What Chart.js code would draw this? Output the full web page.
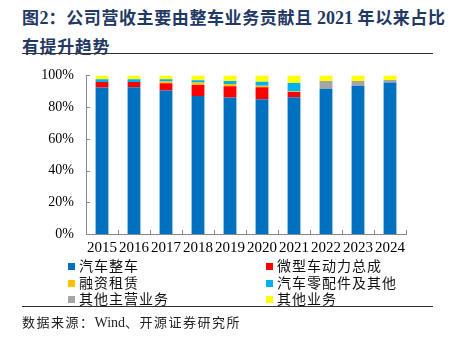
<!DOCTYPE html>
<html lang="zh">
<head>
<meta charset="UTF-8">
<title>整车业务占比</title>
<script src="https://cdn.jsdelivr.net/npm/chart.js@4.4.1/dist/chart.umd.min.js"></script>
<style>
  body { margin: 0; width: 455px; height: 339px; background: #fff; position: relative; overflow: hidden; }
  .title { position: absolute; left: 22px; top: 3px; width: 430px; font-family: "Noto Sans CJK SC", sans-serif;
           font-weight: bold; font-size: 17px; line-height: 27px; color: #1f3864; letter-spacing: 0.6px; }
  .title .num { font-family: "Liberation Serif", serif; font-size: 18px; letter-spacing: 0; }
  .rule { position: absolute; left: 22px; width: 411px; height: 0; border-top: 1.5px solid #333; }
  .wrap { position: absolute; left: 0; top: 55px; width: 455px; height: 215px; }
  .legend { position: absolute; left: 0; top: 257px; width: 455px; font-family: "Noto Sans CJK SC", sans-serif; font-size: 14px; }
  .item { position: absolute; height: 16px; line-height: 16px; letter-spacing: 1px; color: #111; }
  .item i { display: inline-block; width: 7px; height: 7px; margin-right: 4px; vertical-align: 1px; }
  .source { position: absolute; left: 22px; top: 312px; font-family: "Noto Sans CJK SC", sans-serif; font-size: 13px; color: #222; letter-spacing: 1.5px; }
  .source .num { font-family: "Liberation Serif", serif; font-size: 14px; letter-spacing: 0; }
</style>
</head>
<body>
<div class="title">图<span class="num">2</span>：公司营收主要由整车业务贡献且 <span class="num">2021</span> 年以来占比<br>有提升趋势</div>
<div class="rule" style="top:53px"></div>
<div class="wrap"><canvas id="myChart" width="455" height="215"></canvas></div>
<div class="legend" id="legend"></div>
<div class="rule" style="top:306px"></div>
<div class="source">数据来源：<span class="num">Wind</span>、开源证券研究所</div>
<script>
const years = ['2015', '2016', '2017', '2018', '2019', '2020', '2021', '2022', '2023', '2024'];
const seriesNames = ['汽车整车', '微型车动力总成', '融资租赁', '汽车零配件及其他', '其他主营业务', '其他业务'];
const seriesColors = ['#0070c0', '#ff0000', '#ffc000', '#00b0f0', '#a5a5a5', '#ffff00'];

// share of revenue, %
const vehicles   = [92.3, 92.6, 90.5, 87.0, 86.0, 85.0, 86.3, 91.6, 93.5, 95.6];
const powertrain = [3.5, 3.2, 4.6, 7.0, 7.2, 7.6, 3.2, 0, 0, 0];
const leasing    = [0, 0, 1.0, 1.5, 1.3, 0.8, 0.3, 0, 0, 0];
const parts      = [1.7, 1.7, 1.4, 1.4, 1.9, 2.6, 5.4, 0, 0, 0];
const otherMain  = [0, 0, 0, 0, 0, 0, 0, 4.8, 2.9, 1.5];
const otherBiz   = [2.5, 2.5, 2.5, 3.1, 3.6, 4.0, 4.8, 3.6, 3.6, 2.9];
const yTicks = [0, 20, 40, 60, 80, 100];

const seriesData = [vehicles, powertrain, leasing, parts, otherMain, otherBiz];

// ticks drawn inward, like the original
const innerTicks = {
  id: 'innerTicks',
  afterDraw(chart) {
    const ctx = chart.ctx;
    const x = chart.scales.x, y = chart.scales.y;
    ctx.save();
    ctx.strokeStyle = '#888';
    ctx.lineWidth = 1;
    ctx.beginPath();
    yTicks.forEach(v => {
      const py = Math.round(y.getPixelForValue(v)) + 0.5;
      ctx.moveTo(x.left, py);
      ctx.lineTo(x.left + 4, py);
    });
    const step = (x.right - x.left) / years.length;
    for (let i = 1; i <= years.length; i++) {
      const px = Math.round(x.left + step * i) + 0.5;
      ctx.moveTo(px, y.bottom);
      ctx.lineTo(px, y.bottom - 4);
    }
    ctx.stroke();
    ctx.restore();
  }
};

const ctx = document.getElementById('myChart').getContext('2d');
new Chart(ctx, {
  type: 'bar',
  data: {
    labels: years,
    datasets: seriesNames.map((name, i) => ({
      label: name,
      data: seriesData[i],
      backgroundColor: seriesColors[i],
      borderWidth: 0,
      barPercentage: 0.8,
      categoryPercentage: 0.5
    }))
  },
  options: {
    responsive: false,
    animation: false,
    layout: { padding: { top: 15, right: 49, left: 0, bottom: 0 } },
    plugins: { legend: { display: false }, tooltip: { enabled: false } },
    scales: {
      x: {
        stacked: true,
        grid: { display: false, drawTicks: false },
        border: { color: '#888', width: 1 },
        ticks: { color: '#000', padding: 5, autoSkip: false, maxRotation: 0,
                 font: { family: 'Liberation Serif', size: 15 } },
        afterFit(s) { s.height = 36; }
      },
      y: {
        stacked: true,
        min: 0, max: 100,
        grid: { display: false, drawTicks: false },
        border: { color: '#888', width: 1 },
        afterBuildTicks(s) { s.ticks = yTicks.map(v => ({ value: v })); },
        ticks: { color: '#000', padding: 12, callback: v => v + '%',
                 font: { family: 'Liberation Serif', size: 14 } },
        afterFit(s) { s.width = 86; }
      }
    }
  },
  plugins: [innerTicks]
});

// two column legend
const legend = document.getElementById('legend');
seriesNames.forEach((name, i) => {
  const el = document.createElement('div');
  el.className = 'item';
  el.style.left = (i % 2 === 0 ? 68 : 266) + 'px';
  el.style.top = (Math.floor(i / 2) * 16.5) + 'px';
  el.innerHTML = '<i style="background:' + seriesColors[i] + '"></i>' + name;
  legend.appendChild(el);
});
</script>
</body>
</html>
